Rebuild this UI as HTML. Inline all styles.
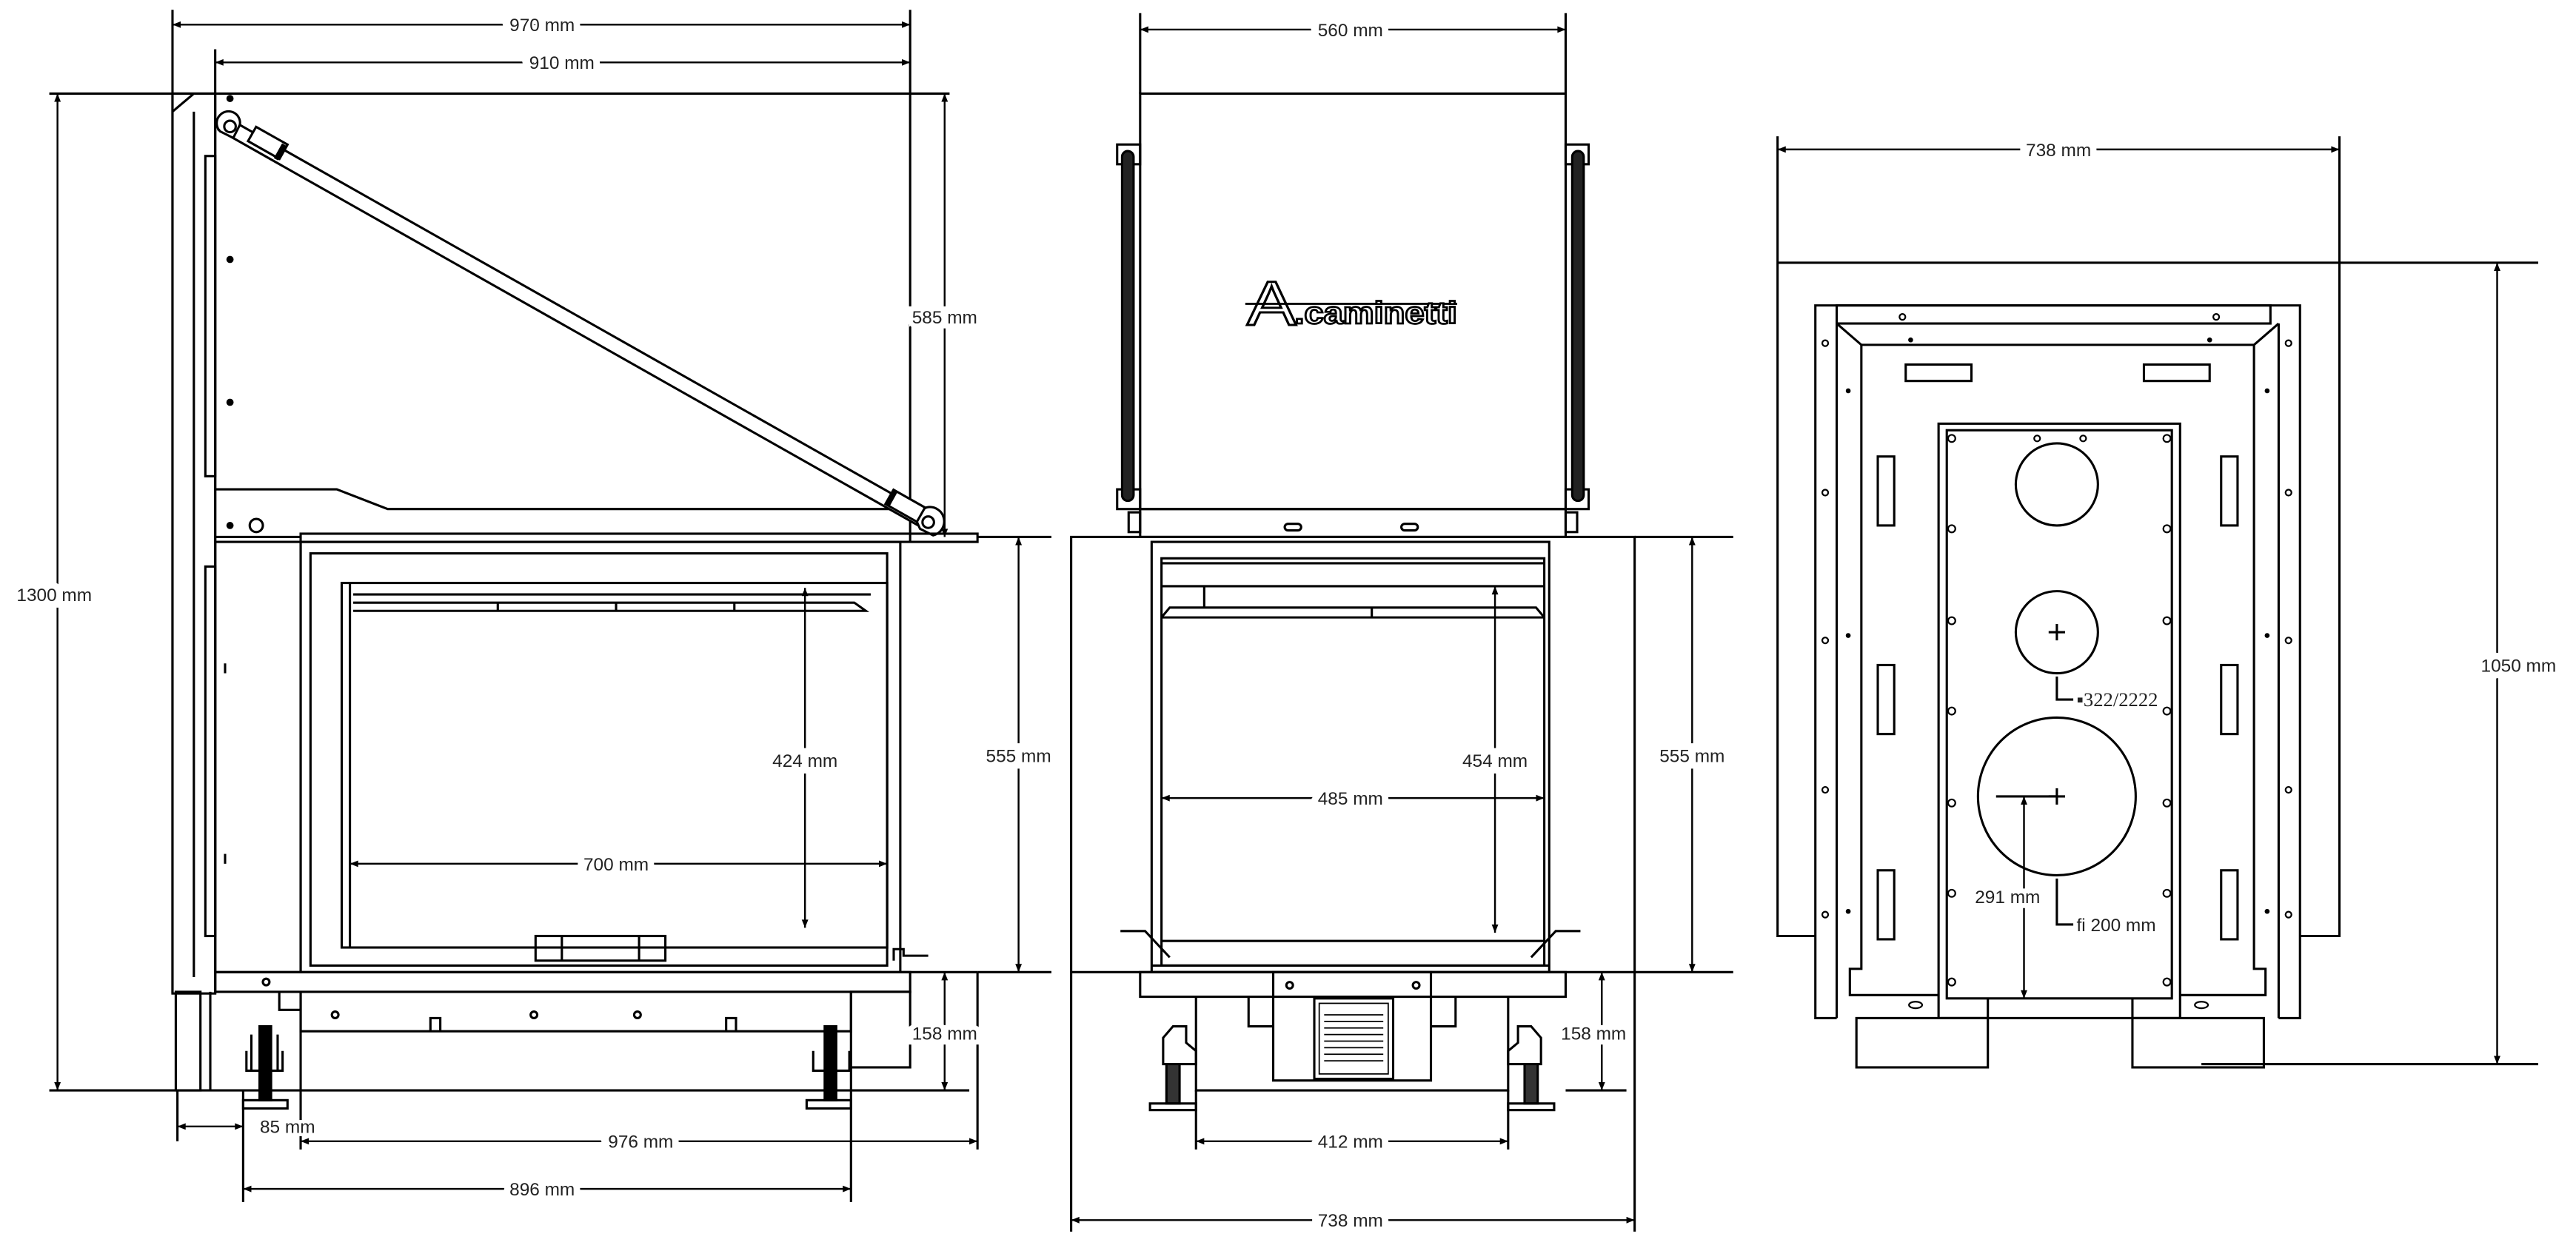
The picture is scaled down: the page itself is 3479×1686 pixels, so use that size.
<!DOCTYPE html>
<html><head><meta charset="utf-8"><style>
html,body{margin:0;padding:0;background:#fff}
svg{display:block}
text{font-family:"Liberation Sans",sans-serif;font-size:11px;fill:#222}
</style></head><body>
<svg width="3479" height="1686" viewBox="0 0 1568 760" preserveAspectRatio="none" xmlns="http://www.w3.org/2000/svg">
<defs>
<marker id="a" viewBox="0 0 10 10" refX="10" refY="5" markerWidth="7" markerHeight="5" orient="auto-start-reverse" markerUnits="userSpaceOnUse"><path d="M0,1 L10,5 L0,9z" fill="#000"/></marker>
</defs>
<g fill="none" stroke="#000" stroke-width="1.4">
<!-- ============ LEFT VIEW ============ -->
<line x1="105" y1="6" x2="105" y2="605"/>
<line x1="554" y1="6" x2="554" y2="330"/>
<line x1="131" y1="30" x2="131" y2="57"/>
<line x1="30" y1="57" x2="578" y2="57"/>
<line x1="30" y1="664" x2="590" y2="664"/>
<rect x="105" y="57" width="26" height="548"/>
<line x1="118" y1="68" x2="118" y2="595"/>
<line x1="105" y1="68" x2="118" y2="57"/>
<rect x="125" y="95" width="6" height="195"/>
<rect x="125" y="345" width="6" height="225"/>
<line x1="131" y1="57" x2="131" y2="605"/>
<path d="M131,298 L205,298 L236,310 L554,310"/>
<circle cx="156" cy="320" r="4"/>
<circle cx="140" cy="60" r="1.5" fill="#000"/>
<circle cx="140" cy="158" r="1.5" fill="#000"/>
<circle cx="140" cy="245" r="1.5" fill="#000"/>
<circle cx="140" cy="320" r="1.5" fill="#000"/>
<!-- strut -->
<path d="M137,71 L570,316 L566,324 L133,79 Z" fill="#fff"/>
<path d="M134,70 A7,7 0 0 1 146,76 L142,84 L134,80 A7,7 0 0 1 134,70 Z" fill="#fff"/>
<circle cx="140" cy="77" r="3.5"/>
<path d="M556,313 L564,309 A8,8 0 0 1 568,326 L560,322 Z" fill="#fff"/>
<circle cx="565" cy="318" r="3.5"/>
<rect x="152" y="82" width="22" height="10" transform="rotate(29.5 163 87)" fill="#fff"/>
<line x1="173" y1="88" x2="168" y2="97" stroke-width="3"/>
<rect x="540" y="303" width="22" height="10" transform="rotate(29.5 551 308)" fill="#fff"/>
<line x1="545" y1="299" x2="540" y2="308" stroke-width="3"/>
<!-- shelf -->
<rect x="183" y="325" width="412" height="5"/>
<line x1="131" y1="327" x2="183" y2="327"/>
<rect x="131" y="330" width="52" height="262"/>
<rect x="183" y="330" width="365" height="262"/>
<rect x="189" y="337" width="351" height="251"/>
<rect x="208" y="355" width="332" height="222"/>
<line x1="213" y1="355" x2="213" y2="577"/>
<path d="M215,362 L530,362 M215,367 L520,367 L527,372 L215,372"/>
<line x1="303" y1="367" x2="303" y2="372"/><line x1="375" y1="367" x2="375" y2="372"/><line x1="447" y1="367" x2="447" y2="372"/>
<rect x="326" y="570" width="79" height="15"/>
<line x1="342" y1="570" x2="342" y2="585"/><line x1="389" y1="570" x2="389" y2="585"/>
<path d="M544,585 L544,578 L550,578 L550,582 L565,582"/>
<line x1="137" y1="404" x2="137" y2="410"/><line x1="137" y1="520" x2="137" y2="526"/>
<rect x="131" y="592" width="423" height="12"/>
<line x1="548" y1="592" x2="595" y2="592"/>
<circle cx="162" cy="598" r="2"/>
<path d="M183,604 L183,628 L518,628 L518,604"/>
<path d="M170,604 L170,615 L183,615"/>
<circle cx="204" cy="618" r="2"/><circle cx="325" cy="618" r="2"/><circle cx="388" cy="618" r="2"/>
<path d="M262,628 L262,620 L268,620 L268,628 M442,628 L442,620 L448,620 L448,628"/>
<rect x="518" y="604" width="36" height="46"/>
<rect x="107" y="604" width="15" height="60"/>
<line x1="128" y1="604" x2="128" y2="664"/>
<path d="M150,640 L150,652 L172,652 L172,640 M153,652 L153,630 M169,652 L169,630"/>
<rect x="158" y="625" width="7" height="45" fill="#000"/>
<rect x="148" y="670" width="27" height="5"/>
<path d="M495,640 L495,652 L517,652 L517,640"/>
<rect x="502" y="625" width="7" height="45" fill="#000"/>
<rect x="491" y="670" width="27" height="5"/>
<line x1="108" y1="664" x2="108" y2="695"/>
<line x1="148" y1="664" x2="148" y2="732"/>
<line x1="183" y1="604" x2="183" y2="700"/>
<line x1="595" y1="592" x2="595" y2="700"/>
<line x1="518" y1="650" x2="518" y2="732"/>
<line x1="595" y1="327" x2="640" y2="327"/>
<line x1="595" y1="592" x2="640" y2="592"/>
</g>
<g stroke="#000" stroke-width="1.1" fill="none" marker-start="url(#a)" marker-end="url(#a)">
<line x1="105" y1="15" x2="554" y2="15"/>
<line x1="131" y1="38" x2="554" y2="38"/>
<line x1="35" y1="57" x2="35" y2="664"/>
<line x1="575" y1="57" x2="575" y2="327"/>
<line x1="490" y1="358" x2="490" y2="565"/>
<line x1="213" y1="526" x2="540" y2="526"/>
<line x1="620" y1="327" x2="620" y2="592"/>
<line x1="575" y1="592" x2="575" y2="664"/>
<line x1="108" y1="686" x2="148" y2="686"/>
<line x1="183" y1="695" x2="595" y2="695"/>
<line x1="148" y1="724" x2="518" y2="724"/>
<line x1="694" y1="18" x2="953" y2="18"/>
<line x1="910" y1="357" x2="910" y2="568"/>
<line x1="707" y1="486" x2="940" y2="486"/>
<line x1="1030" y1="327" x2="1030" y2="592"/>
<line x1="975" y1="592" x2="975" y2="664"/>
<line x1="728" y1="695" x2="918" y2="695"/>
<line x1="652" y1="743" x2="995" y2="743"/>
<line x1="1082" y1="91" x2="1424" y2="91"/>
<line x1="1520" y1="160" x2="1520" y2="648"/>
<line x1="1232" y1="485" x2="1232" y2="608"/>
</g>
<g fill="none" stroke="#000" stroke-width="1.4">
<!-- ============ MIDDLE VIEW ============ -->
<line x1="694" y1="8" x2="694" y2="57"/>
<line x1="953" y1="8" x2="953" y2="57"/>
<rect x="694" y="57" width="259" height="253"/>
<rect x="694" y="310" width="259" height="17"/>
<rect x="782" y="319" width="10" height="4" rx="2"/>
<rect x="853" y="319" width="10" height="4" rx="2"/>
<rect x="680" y="88" width="14" height="12"/>
<rect x="680" y="298" width="14" height="12"/>
<rect x="953" y="88" width="14" height="12"/>
<rect x="953" y="298" width="14" height="12"/>
<rect x="683" y="92" width="7" height="213" rx="3.5" fill="#222"/>
<rect x="957" y="92" width="7" height="213" rx="3.5" fill="#222"/>
<rect x="687" y="312" width="7" height="12"/>
<rect x="953" y="312" width="7" height="12"/>
<rect x="652" y="327" width="343" height="265"/>
<rect x="701" y="330" width="242" height="262"/>
<rect x="707" y="340" width="233" height="248"/>
<line x1="707" y1="343" x2="940" y2="343"/>
<line x1="707" y1="357" x2="940" y2="357"/>
<path d="M707,376 L712,370 L935,370 L940,376 M707,376 L940,376"/>
<line x1="835" y1="370" x2="835" y2="376"/><line x1="733" y1="357" x2="733" y2="370"/>
<line x1="707" y1="573" x2="940" y2="573"/>
<path d="M682,567 L697,567 L712,583 M962,567 L947,567 L932,583"/>
<line x1="701" y1="588" x2="943" y2="588"/>
<rect x="694" y="592" width="259" height="15"/>
<rect x="775" y="592" width="96" height="66"/>
<circle cx="785" cy="600" r="2"/><circle cx="862" cy="600" r="2"/>
<rect x="800" y="608" width="48" height="49"/>
<rect x="803" y="611" width="42" height="43" stroke-width="0.8"/>
<g stroke-width="0.8"><line x1="806" y1="618" x2="842" y2="618"/><line x1="806" y1="622" x2="842" y2="622"/><line x1="806" y1="626" x2="842" y2="626"/><line x1="806" y1="630" x2="842" y2="630"/><line x1="806" y1="634" x2="842" y2="634"/><line x1="806" y1="638" x2="842" y2="638"/><line x1="806" y1="642" x2="842" y2="642"/><line x1="806" y1="646" x2="842" y2="646"/></g>
<path d="M728,607 L728,664 L918,664 L918,607"/>
<path d="M760,607 L760,625 L775,625 M886,607 L886,625 L871,625"/>
<path d="M708,640 L708,632 L714,625 L722,625 L722,635 L728,640 L728,648 L708,648 Z"/>
<rect x="710" y="648" width="8" height="24" fill="#333"/>
<rect x="700" y="672" width="28" height="4"/>
<path d="M938,640 L938,632 L932,625 L924,625 L924,635 L918,640 L918,648 L938,648 Z"/>
<rect x="928" y="648" width="8" height="24" fill="#333"/>
<rect x="918" y="672" width="28" height="4"/>
<line x1="728" y1="664" x2="728" y2="700"/>
<line x1="918" y1="664" x2="918" y2="700"/>
<line x1="652" y1="592" x2="652" y2="750"/>
<line x1="995" y1="592" x2="995" y2="750"/>
<line x1="995" y1="327" x2="1055" y2="327"/>
<line x1="995" y1="592" x2="1055" y2="592"/>
<line x1="953" y1="664" x2="990" y2="664"/>
<!-- ============ RIGHT VIEW ============ -->
<line x1="1082" y1="83" x2="1082" y2="160"/>
<line x1="1424" y1="83" x2="1424" y2="160"/>
<line x1="1082" y1="160" x2="1545" y2="160"/>
<path d="M1105,570 L1082,570 L1082,160 M1400,570 L1424,570 L1424,160"/>
<path d="M1118,620 L1105,620 L1105,186 L1400,186 L1400,620 L1387,620"/>
<rect x="1118" y="186" width="264" height="11"/>
<path d="M1118,197 L1118,620 M1387,197 L1387,620"/>
<path d="M1118,197 L1133,210 L1372,210 L1387,197"/>
<path d="M1133,210 L1133,590 L1126,590 L1126,606 L1180,606"/>
<path d="M1372,210 L1372,590 L1379,590 L1379,606 L1327,606"/>
<rect x="1160" y="222" width="40" height="10"/>
<rect x="1305" y="222" width="40" height="10"/>
<rect x="1143" y="278" width="10" height="42"/><rect x="1143" y="405" width="10" height="42"/><rect x="1143" y="530" width="10" height="42"/>
<rect x="1352" y="278" width="10" height="42"/><rect x="1352" y="405" width="10" height="42"/><rect x="1352" y="530" width="10" height="42"/>
<rect x="1180" y="258" width="147" height="362"/>
<rect x="1185" y="262" width="137" height="346"/>
<path d="M1210,608 L1210,620 M1298,608 L1298,620"/>
<circle cx="1252" cy="295" r="25"/>
<circle cx="1252" cy="385" r="25"/>
<circle cx="1252" cy="485" r="48"/>
<path d="M1247,385 L1257,385 M1252,380 L1252,390 M1247,485 L1257,485 M1252,480 L1252,490"/>
<line x1="1215" y1="485" x2="1252" y2="485"/>
<path d="M1252,412 L1252,426 L1262,426 M1252,535 L1252,563 L1262,563"/>
<rect x="1130" y="620" width="80" height="30"/>
<rect x="1298" y="620" width="80" height="30"/>
<line x1="1340" y1="648" x2="1545" y2="648"/>
</g>
<g fill="none" stroke="#000" stroke-width="1">
<circle cx="1158" cy="193" r="1.8"/><circle cx="1349" cy="193" r="1.8"/>
<circle cx="1111" cy="209" r="1.8"/><circle cx="1393" cy="209" r="1.8"/>
<circle cx="1111" cy="300" r="1.8"/><circle cx="1393" cy="300" r="1.8"/>
<circle cx="1111" cy="390" r="1.8"/><circle cx="1393" cy="390" r="1.8"/>
<circle cx="1111" cy="481" r="1.8"/><circle cx="1393" cy="481" r="1.8"/>
<circle cx="1111" cy="557" r="1.8"/><circle cx="1393" cy="557" r="1.8"/>
<circle cx="1188" cy="267" r="2.2"/><circle cx="1319" cy="267" r="2.2"/>
<circle cx="1240" cy="267" r="1.8"/><circle cx="1268" cy="267" r="1.8"/>
<circle cx="1188" cy="322" r="2.2"/><circle cx="1319" cy="322" r="2.2"/>
<circle cx="1188" cy="378" r="2.2"/><circle cx="1319" cy="378" r="2.2"/>
<circle cx="1188" cy="433" r="2.2"/><circle cx="1319" cy="433" r="2.2"/>
<circle cx="1188" cy="489" r="2.2"/><circle cx="1319" cy="489" r="2.2"/>
<circle cx="1188" cy="544" r="2.2"/><circle cx="1319" cy="544" r="2.2"/>
<circle cx="1188" cy="598" r="2.2"/><circle cx="1319" cy="598" r="2.2"/>
<ellipse cx="1166" cy="612" rx="4" ry="2"/><ellipse cx="1340" cy="612" rx="4" ry="2"/>
</g>
<g fill="#000">
<circle cx="1163" cy="207" r="1.5"/><circle cx="1345" cy="207" r="1.5"/>
<circle cx="1125" cy="238" r="1.5"/><circle cx="1380" cy="238" r="1.5"/>
<circle cx="1125" cy="387" r="1.5"/><circle cx="1380" cy="387" r="1.5"/>
<circle cx="1125" cy="555" r="1.5"/><circle cx="1380" cy="555" r="1.5"/>
</g>
<!-- logo -->
<text x="759" y="198" style="font-size:38px;fill:#fff;stroke:#000;stroke-width:1.3" textLength="30" lengthAdjust="spacingAndGlyphs">A</text>
<line x1="758" y1="185" x2="887" y2="185" stroke="#000" stroke-width="1.3"/>
<text x="788" y="197" style="font-size:19px;font-weight:bold;fill:#fff;stroke:#000;stroke-width:1.2" textLength="99" lengthAdjust="spacingAndGlyphs">.caminetti</text>
<g text-anchor="middle">
<text x="330" y="19" style="paint-order:stroke;stroke:#fff;stroke-width:8">970 mm</text>
<text x="342" y="42" style="paint-order:stroke;stroke:#fff;stroke-width:8">910 mm</text>
<text x="33" y="366" style="paint-order:stroke;stroke:#fff;stroke-width:8">1300 mm</text>
<text x="575" y="197" style="paint-order:stroke;stroke:#fff;stroke-width:6">585 mm</text>
<text x="490" y="467" style="paint-order:stroke;stroke:#fff;stroke-width:8">424 mm</text>
<text x="375" y="530" style="paint-order:stroke;stroke:#fff;stroke-width:8">700 mm</text>
<text x="620" y="464" style="paint-order:stroke;stroke:#fff;stroke-width:8">555 mm</text>
<text x="575" y="633" style="paint-order:stroke;stroke:#fff;stroke-width:6">158 mm</text>
<text x="175" y="690" style="paint-order:stroke;stroke:#fff;stroke-width:4">85 mm</text>
<text x="390" y="699" style="paint-order:stroke;stroke:#fff;stroke-width:8">976 mm</text>
<text x="330" y="728" style="paint-order:stroke;stroke:#fff;stroke-width:8">896 mm</text>
<text x="822" y="22" style="paint-order:stroke;stroke:#fff;stroke-width:8">560 mm</text>
<text x="910" y="467" style="paint-order:stroke;stroke:#fff;stroke-width:8">454 mm</text>
<text x="822" y="490" style="paint-order:stroke;stroke:#fff;stroke-width:8">485 mm</text>
<text x="1030" y="464" style="paint-order:stroke;stroke:#fff;stroke-width:8">555 mm</text>
<text x="970" y="633" style="paint-order:stroke;stroke:#fff;stroke-width:6">158 mm</text>
<text x="822" y="699" style="paint-order:stroke;stroke:#fff;stroke-width:8">412 mm</text>
<text x="822" y="747" style="paint-order:stroke;stroke:#fff;stroke-width:8">738 mm</text>
<text x="1253" y="95" style="paint-order:stroke;stroke:#fff;stroke-width:8">738 mm</text>
<text x="1533" y="409" style="paint-order:stroke;stroke:#fff;stroke-width:8">1050 mm</text>
<text x="1222" y="550" style="paint-order:stroke;stroke:#fff;stroke-width:6">291 mm</text>
</g>
<text x="1264" y="430" style="font-family:'Liberation Serif',serif;font-size:12px">▪322/2222</text>
<text x="1264" y="567">fi 200 mm</text>
</svg>
</body></html>
